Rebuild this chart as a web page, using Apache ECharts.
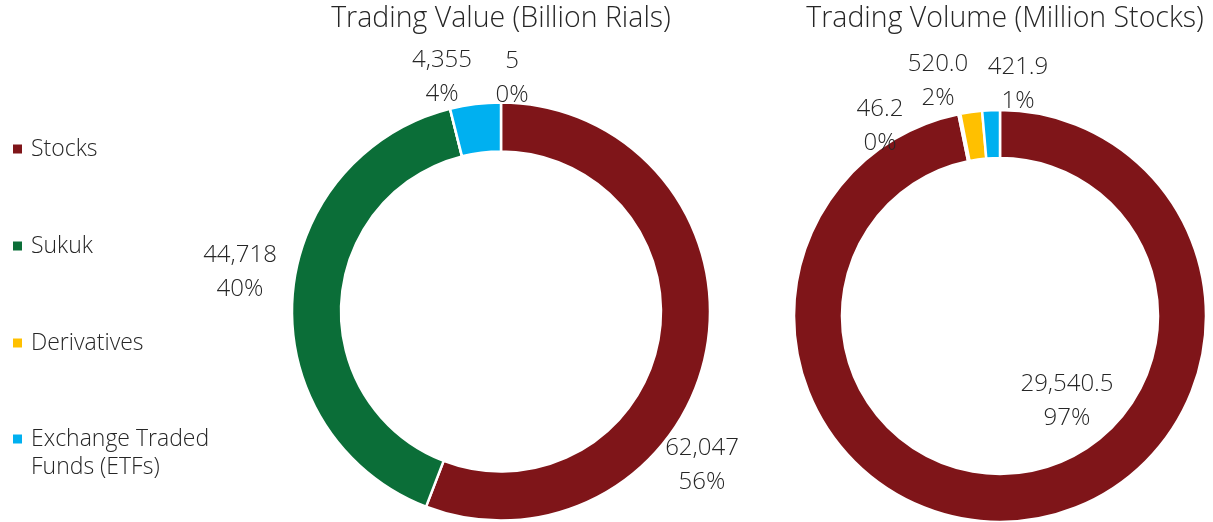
<!DOCTYPE html>
<html>
<head>
<meta charset="utf-8">
<script src="https://cdn.jsdelivr.net/npm/echarts@6/dist/echarts.min.js"></script>
<style>
html,body{margin:0;padding:0;background:#fff;}
#chart{width:1213px;height:522px;}
</style>
</head>
<body>
<div id="chart"></div>
<script>
// ---- data ----
const categories = ['Stocks', 'Sukuk', 'Derivatives', 'Exchange Traded\nFunds (ETFs)'];
const valueTitle = 'Trading Value (Billion Rials)';
const volumeTitle = 'Trading Volume (Million Stocks)';
const tradingValue = [62047, 44718, 5, 4355];
const tradingVolume = [29540.5, 46.2, 520.0, 421.9];
const colors = ['#7F1519', '#0B6E38', '#FFC000', '#00B0F0'];

// label placement (offset of label centre from pie centre), as in the original (best-fit labels)
const valueLabelOffsets = [[201, 154], [-261, -39], [11, -233], [-59, -234]];
const volumeLabelOffsets = [[67, 85], [-120, -190], [-62, -235], [18, -232]];

const FONT = '"Open Sans", "Noto Sans", sans-serif';
const TXT = '#262626';
const WEIGHT = 300;

function sum(a){return a.reduce((s,v)=>s+v,0);}
function fmt(v, dec){
  return v.toLocaleString('en-US',{minimumFractionDigits:dec,maximumFractionDigits:dec});
}
function makeData(vals){
  return categories.map((c,i)=>({name:c, value:vals[i], itemStyle:{color:colors[i]}}));
}
function labelFormatter(vals, dec){
  const total = sum(vals);
  return p => fmt(p.value, dec) + '\n' + Math.round(p.value/total*100) + '%';
}
const centers = [[501, 311.5], [1000, 316]];
function layoutFor(si, offs){
  return p => ({
    x: centers[si][0] + offs[p.dataIndex][0],
    y: centers[si][1] + offs[p.dataIndex][1],
    align:'center', verticalAlign:'middle'
  });
}
const labelStyle = {fontFamily:FONT, fontSize:24, fontWeight:WEIGHT, color:TXT, lineHeight:34, align:'center'};
const legendText = {fontFamily:FONT, fontSize:23, fontWeight:WEIGHT, color:TXT, lineHeight:28, padding:[0,0,0,3]};

const chart = echarts.init(document.getElementById('chart'), null, {renderer:'canvas'});
const option = {
  animation:false,
  backgroundColor:'#fff',
  title:[
    {text:valueTitle, left:496, top:-1, textAlign:'center',
     textStyle:{fontFamily:FONT, fontSize:28.5, fontWeight:WEIGHT, color:TXT}},
    {text:volumeTitle, left:1000, top:-1, textAlign:'center',
     textStyle:{fontFamily:FONT, fontSize:28.5, fontWeight:WEIGHT, color:TXT}}
  ],
  legend:[
    {
      orient:'vertical', left:6, top:130,
      icon:'rect', itemWidth:11, itemHeight:11, itemGap:69,
      data:categories.slice(0, 3),
      textStyle:legendText
    },
    {
      // multi-line item: marker aligned with its first line
      orient:'vertical', left:6, top:392,
      icon:'rect', itemWidth:11, itemHeight:11,
      data:categories.slice(3),
      formatter:name => '\n' + name,
      textStyle:legendText
    }
  ],
  series:[
    {
      type:'pie', name:valueTitle,
      center:centers[0], radius:[160, 209],
      startAngle:90, clockwise:true,
      itemStyle:{borderColor:'#fff', borderWidth:2.5},
      label:Object.assign({show:true, position:'outside', formatter:labelFormatter(tradingValue,0)}, labelStyle),
      labelLine:{show:false},
      labelLayout:layoutFor(0, valueLabelOffsets),
      emphasis:{disabled:true},
      data:makeData(tradingValue)
    },
    {
      type:'pie', name:volumeTitle,
      center:centers[1], radius:[158, 206],
      startAngle:90, clockwise:true,
      itemStyle:{borderColor:'#fff', borderWidth:2.5},
      label:Object.assign({show:true, position:'outside', formatter:labelFormatter(tradingVolume,1)}, labelStyle),
      labelLine:{show:false},
      labelLayout:layoutFor(1, volumeLabelOffsets),
      emphasis:{disabled:true},
      data:makeData(tradingVolume)
    }
  ]
};
chart.setOption(option);
</script>
</body>
</html>
